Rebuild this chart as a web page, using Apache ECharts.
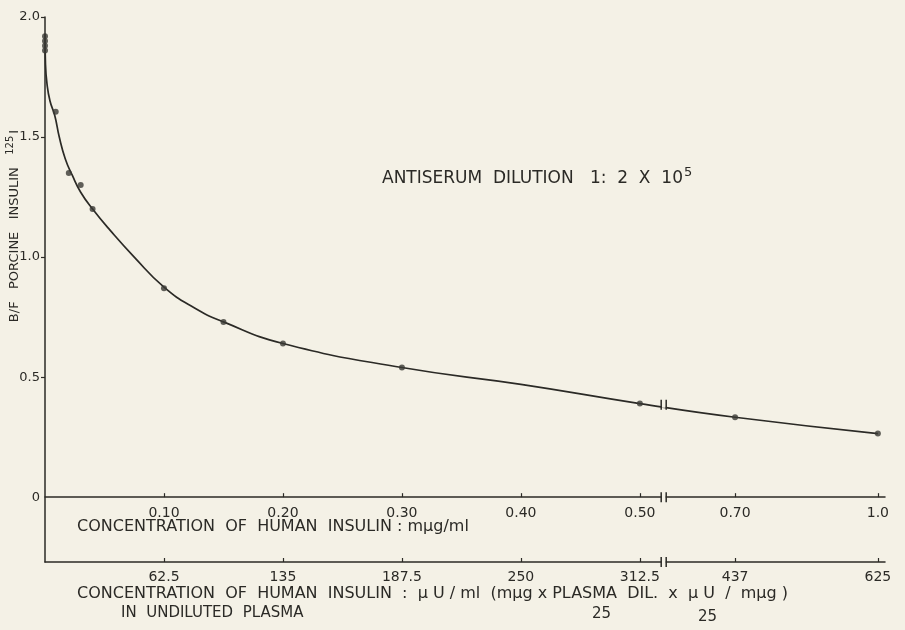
<!DOCTYPE html>
<html>
<head>
<meta charset="utf-8">
<script src="https://cdn.jsdelivr.net/npm/echarts@6/dist/echarts.min.js"></script>
<style>
  html, body { margin: 0; padding: 0; background: #f4f1e6; }
  #chart { width: 905px; height: 630px; }
</style>
</head>
<body>
<div id="chart"></div>
<script>
// measured points: human insulin (mµg/ml) vs B/F of 125I porcine insulin
var pointConc = [0, 0, 0, 0, 0.009, 0.02, 0.03, 0.04, 0.10, 0.15, 0.20, 0.30, 0.50, 0.70, 1.0];
var pointBF = [1.92, 1.90, 1.88, 1.86, 1.605, 1.35, 1.30, 1.20, 0.87, 0.73, 0.64, 0.54, 0.39, 0.333, 0.265];

// hand drawn standard curve
var curveConc = [0, 0.0004, 0.0017, 0.0042, 0.0082, 0.012, 0.017, 0.023, 0.030, 0.04, 0.055, 0.075, 0.10, 0.125, 0.15, 0.20, 0.30, 0.40, 0.50, 0.70, 1.0];
var curveBF = [1.93, 1.805, 1.72, 1.65, 1.59, 1.50, 1.41, 1.34, 1.27, 1.20, 1.11, 1.0, 0.875, 0.79, 0.73, 0.64, 0.54, 0.47, 0.39, 0.333, 0.265];

// x ticks (same positions on both scales)
var tickConc = [0.10, 0.20, 0.30, 0.40, 0.50, 0.70, 1.0];
var tickLabelsTop = ['0.10', '0.20', '0.30', '0.40', '0.50', '0.70', '1.0'];
var tickLabelsBottom = ['62.5', '135', '187.5', '250', '312.5', '437', '625'];
var yTicks = [0, 0.5, 1.0, 1.5, 2.0];

// broken axis: after the break the scale is compressed
var BREAK_LO = 0.52, BREAK_HI = 0.55, RIGHT_SCALE = 0.4;
var Y_MIN = -0.27, Y_MAX = 2.0;
var curveBreakBF = 0.385;

function toD(x) {
  return x <= BREAK_LO ? x : BREAK_LO + (x - BREAK_HI) * RIGHT_SCALE;
}
function pair(xs, ys) {
  return xs.map(function(x, i) { return [toD(x), ys[i]]; });
}
var tickD = tickConc.map(toD);
function labelFor(list) {
  return function(v) {
    for (var i = 0; i < tickD.length; i++) {
      if (Math.abs(tickD[i] - v) < 1e-6) return list[i];
    }
    return '';
  };
}

var ink = '#2b2a26';
var paper = '#f4f1e6';
var font = '"DejaVu Sans", sans-serif';

var gridTop = 17, gridBottom = 68;
var gridH = 630 - gridTop - gridBottom;
// upper x axis sits on B/F = 0
var zeroOffset = -gridH * (0 - Y_MIN) / (Y_MAX - Y_MIN);

var chart = echarts.init(document.getElementById('chart'), null, { renderer: 'canvas' });
chart.setOption({
  animation: false,
  backgroundColor: paper,
  grid: { left: 45, right: 20, top: gridTop, bottom: gridBottom, containLabel: false, outerBoundsMode: 'none' },
  xAxis: [
    {
      type: 'value', min: 0, max: 0.706, position: 'bottom', offset: zeroOffset,
      axisLine: { onZero: false, lineStyle: { color: ink, width: 1.5 } },
      axisTick: { show: true, inside: true, length: 4, customValues: tickD, lineStyle: { color: ink, width: 1.2 } },
      axisLabel: { customValues: tickD, formatter: labelFor(tickLabelsTop), color: ink, fontFamily: font, fontSize: 14, margin: 9 },
      splitLine: { show: false }
    },
    {
      type: 'value', min: 0, max: 0.706, position: 'bottom',
      axisLine: { onZero: false, lineStyle: { color: ink, width: 1.5 } },
      axisTick: { show: true, inside: true, length: 4, customValues: tickD, lineStyle: { color: ink, width: 1.2 } },
      axisLabel: { customValues: tickD, formatter: labelFor(tickLabelsBottom), color: ink, fontFamily: font, fontSize: 14, margin: 8 },
      splitLine: { show: false }
    }
  ],
  yAxis: {
    type: 'value', min: Y_MIN, max: Y_MAX,
    axisLine: { show: true, onZero: false, lineStyle: { color: ink, width: 1.5 } },
    axisTick: { show: true, length: 4, customValues: [0.5, 1.0, 1.5, 2.0], lineStyle: { color: ink, width: 1.2 } },
    axisLabel: {
      customValues: yTicks, color: ink, fontFamily: font, fontSize: 13, margin: 5,
      formatter: function(v) { return v === 0 ? '0' : v.toFixed(1); }
    },
    splitLine: { show: false }
  },
  graphic: [
    {
      type: 'text', x: 382, y: 179,
      style: {
        text: '{a|ANTISERUM  DILUTION   1:  2  X  10}{s|5}',
        verticalAlign: 'middle',
        rich: {
          a: { fontFamily: font, fontSize: 17, fill: ink },
          s: { fontFamily: font, fontSize: 13, fill: ink, padding: [0, 0, 13, 1] }
        }
      }
    },
    {
      type: 'text', x: 77, y: 527,
      style: { text: 'CONCENTRATION  OF  HUMAN  INSULIN : mµg/ml', font: '16px ' + font, fill: ink, verticalAlign: 'middle' }
    },
    {
      type: 'text', x: 77, y: 594,
      style: { text: 'CONCENTRATION  OF  HUMAN  INSULIN  :  µ U / ml  (mµg x PLASMA  DIL.  x  µ U  /  mµg )', font: '16px ' + font, fill: ink, verticalAlign: 'middle' }
    },
    {
      type: 'text', x: 121, y: 613,
      style: { text: 'IN  UNDILUTED  PLASMA', font: '15px ' + font, fill: ink, verticalAlign: 'middle' }
    },
    {
      type: 'text', x: 592, y: 614,
      style: { text: '25', font: '15px ' + font, fill: ink, verticalAlign: 'middle' }
    },
    {
      type: 'text', x: 698, y: 617,
      style: { text: '25', font: '15px ' + font, fill: ink, verticalAlign: 'middle' }
    },
    {
      type: 'text', x: 15, y: 226, rotation: Math.PI / 2,
      style: {
        text: '{a|B/F   PORCINE   INSULIN   }{s|125}{a|I}',
        align: 'center', verticalAlign: 'middle',
        rich: {
          a: { fontFamily: font, fontSize: 13, fill: ink },
          s: { fontFamily: font, fontSize: 10, fill: ink, padding: [0, 2, 10, 0] }
        }
      }
    }
  ],
  series: [
    {
      type: 'line',
      data: pair(curveConc, curveBF),
      smooth: 0.5,
      showSymbol: false,
      lineStyle: { color: ink, width: 1.7 },
      z: 3
    },
    {
      type: 'scatter',
      data: pair(pointConc, pointBF),
      symbol: 'circle',
      symbolSize: 6,
      itemStyle: { color: '#3a3934' },
      z: 4
    },
    {
      // break marks on both x axes and on the curve
      type: 'custom',
      clip: false,
      z: 10,
      data: [[BREAK_LO, 0], [BREAK_LO, Y_MIN], [BREAK_LO, curveBreakBF]],
      renderItem: function(params, api) {
        var p = api.coord([api.value(0), api.value(1)]);
        return {
          type: 'group',
          children: [
            { type: 'rect', shape: { x: p[0] - 2, y: p[1] - 3, width: 4, height: 6 }, style: { fill: paper } },
            { type: 'line', shape: { x1: p[0] - 2.5, y1: p[1] - 5, x2: p[0] - 2.5, y2: p[1] + 5 }, style: { stroke: ink, lineWidth: 1.5 } },
            { type: 'line', shape: { x1: p[0] + 2.5, y1: p[1] - 5, x2: p[0] + 2.5, y2: p[1] + 5 }, style: { stroke: ink, lineWidth: 1.5 } }
          ]
        };
      }
    }
  ]
});
</script>
</body>
</html>
